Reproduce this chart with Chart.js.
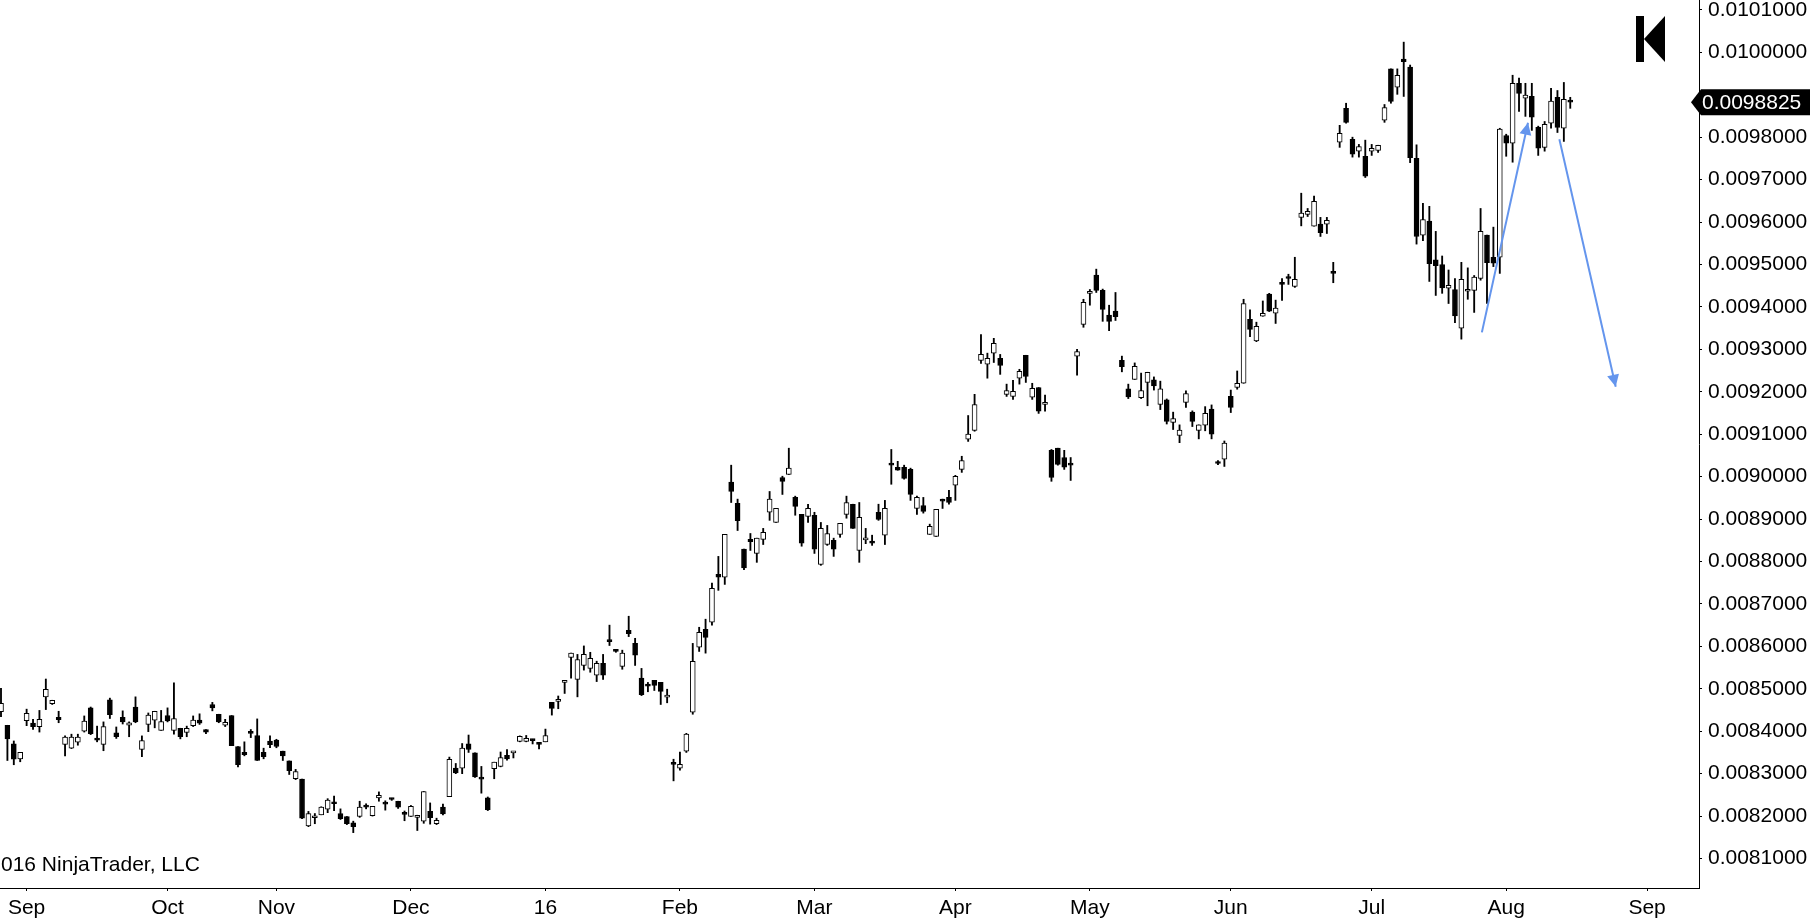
<!DOCTYPE html>
<html><head><meta charset="utf-8">
<script src="https://cdn.jsdelivr.net/npm/chart.js@4/dist/chart.umd.min.js"></script>
<style>html,body{margin:0;padding:0;background:#fff;overflow:hidden}#wrap{width:1810px;height:922px;position:relative}</style>
</head><body><div id="wrap"><canvas id="c" width="1810" height="922"></canvas></div>
<script>
const open=[
0.008446,0.008414,0.008370,0.008335,0.008425,0.008419,0.008411,0.008481,0.008465,0.008433,
0.008369,0.008360,0.008374,0.008400,0.008455,0.008384,0.008369,0.008474,0.008396,0.008433,
0.008414,0.008457,0.008357,0.008416,0.008426,0.008402,0.008437,0.008402,0.008407,0.008397,
0.008413,0.008426,0.008404,0.008463,0.008440,0.008414,0.008437,0.008364,0.008350,0.008399,
0.008390,0.008350,0.008377,0.008379,0.008353,0.008330,0.008288,0.008287,0.008177,0.008196,
0.008203,0.008216,0.008233,0.008206,0.008199,0.008184,0.008199,0.008226,0.008201,0.008243,
0.008231,0.008242,0.008235,0.008207,0.008199,0.008197,0.008188,0.008211,0.008182,0.008221,
0.008246,0.008313,0.008313,0.008370,0.008349,0.008290,0.008243,0.008312,0.008317,0.008343,
0.008349,0.008376,0.008376,0.008381,0.008372,0.008375,0.008468,0.008470,0.008515,0.008574,
0.008522,0.008555,0.008548,0.008532,0.008560,0.008614,0.008593,0.008553,0.008638,0.008607,
0.008525,0.008511,0.008520,0.008515,0.008480,0.008324,0.008313,0.008353,0.008445,0.008598,
0.008640,0.008657,0.008770,0.008763,0.008987,0.008937,0.008829,0.008852,0.008819,0.008852,
0.008916,0.008892,0.008998,0.009005,0.008951,0.008911,0.008906,0.008909,0.008793,0.008840,
0.008850,0.008864,0.008911,0.008935,0.008826,0.008851,0.008848,0.008916,0.008862,0.009029,
0.009022,0.009022,0.009017,0.008925,0.008932,0.008864,0.008859,0.008947,0.008951,0.008980,
0.009017,0.009088,0.009109,0.009274,0.009265,0.009291,0.009279,0.009194,0.009189,0.009232,
0.009286,0.009187,0.009210,0.009170,0.009062,0.009067,0.009045,0.009029,0.009284,0.009359,
0.009432,0.009475,0.009439,0.009381,0.009390,0.009274,0.009207,0.009229,0.009186,0.009222,
0.009228,0.009170,0.009181,0.009128,0.009097,0.009175,0.009152,0.009109,0.009121,0.009159,
0.009034,0.009041,0.009189,0.009210,0.009220,0.009371,0.009320,0.009378,0.009430,0.009385,
0.009458,0.009470,0.009448,0.009611,0.009618,0.009590,0.009595,0.009595,0.009482,0.009788,
0.009868,0.009795,0.009767,0.009755,0.009767,0.009769,0.009840,0.009961,0.009918,0.009984,
0.009965,0.009750,0.009569,0.009602,0.009511,0.009500,0.009444,0.009441,0.009350,0.009437,
0.009439,0.009467,0.009569,0.009517,0.009517,0.009804,0.009786,0.009927,0.009892,0.009896,
0.009823,0.009776,0.009833,0.009894,0.009821,0.009887];
const high=[
0.008501,0.008414,0.008377,0.008350,0.008452,0.008428,0.008449,0.008523,0.008473,0.008447,
0.008389,0.008393,0.008393,0.008436,0.008457,0.008412,0.008422,0.008478,0.008410,0.008448,
0.008422,0.008481,0.008389,0.008443,0.008447,0.008449,0.008455,0.008514,0.008407,0.008412,
0.008436,0.008441,0.008404,0.008468,0.008440,0.008428,0.008437,0.008364,0.008375,0.008404,
0.008429,0.008360,0.008389,0.008381,0.008353,0.008330,0.008310,0.008287,0.008211,0.008206,
0.008222,0.008241,0.008247,0.008217,0.008199,0.008188,0.008235,0.008229,0.008223,0.008257,
0.008236,0.008242,0.008235,0.008212,0.008225,0.008202,0.008258,0.008231,0.008195,0.008228,
0.008339,0.008324,0.008371,0.008391,0.008349,0.008317,0.008245,0.008327,0.008351,0.008357,
0.008352,0.008389,0.008390,0.008381,0.008372,0.008405,0.008468,0.008483,0.008520,0.008584,
0.008581,0.008601,0.008586,0.008565,0.008581,0.008650,0.008593,0.008591,0.008671,0.008619,
0.008548,0.008515,0.008520,0.008515,0.008499,0.008334,0.008351,0.008395,0.008607,0.008645,
0.008664,0.008749,0.008812,0.008864,0.009027,0.008947,0.008829,0.008866,0.008855,0.008878,
0.008965,0.008925,0.009001,0.009067,0.008954,0.008911,0.008935,0.008916,0.008892,0.008885,
0.008855,0.008890,0.008954,0.008935,0.008939,0.008878,0.008862,0.008935,0.008944,0.009064,
0.009036,0.009027,0.009020,0.008954,0.008951,0.008888,0.008923,0.008947,0.008968,0.009003,
0.009048,0.009144,0.009194,0.009335,0.009291,0.009326,0.009288,0.009218,0.009227,0.009253,
0.009286,0.009220,0.009210,0.009192,0.009064,0.009067,0.009062,0.009045,0.009300,0.009418,
0.009441,0.009489,0.009442,0.009404,0.009434,0.009284,0.009218,0.009268,0.009244,0.009246,
0.009235,0.009225,0.009183,0.009152,0.009122,0.009202,0.009155,0.009122,0.009165,0.009169,
0.009038,0.009084,0.009204,0.009249,0.009418,0.009393,0.009364,0.009414,0.009432,0.009416,
0.009467,0.009477,0.009517,0.009668,0.009632,0.009661,0.009611,0.009611,0.009505,0.009828,
0.009880,0.009800,0.009783,0.009793,0.009783,0.009781,0.009877,0.009961,0.009961,0.010024,
0.009970,0.009782,0.009644,0.009637,0.009578,0.009520,0.009487,0.009467,0.009505,0.009492,
0.009474,0.009632,0.009569,0.009588,0.009821,0.009807,0.009946,0.009939,0.009927,0.009927,
0.009826,0.009837,0.009915,0.009910,0.009929,0.009894];
const low=[
0.008434,0.008331,0.008321,0.008328,0.008413,0.008404,0.008398,0.008451,0.008463,0.008420,
0.008342,0.008359,0.008367,0.008398,0.008392,0.008375,0.008354,0.008430,0.008383,0.008417,
0.008387,0.008420,0.008340,0.008399,0.008408,0.008402,0.008422,0.008393,0.008382,0.008387,
0.008411,0.008416,0.008394,0.008448,0.008420,0.008411,0.008366,0.008316,0.008342,0.008385,
0.008331,0.008335,0.008361,0.008361,0.008331,0.008298,0.008286,0.008194,0.008175,0.008182,
0.008203,0.008208,0.008213,0.008192,0.008180,0.008161,0.008197,0.008217,0.008200,0.008235,
0.008214,0.008237,0.008218,0.008189,0.008199,0.008166,0.008183,0.008181,0.008180,0.008203,
0.008246,0.008300,0.008300,0.008350,0.008291,0.008254,0.008213,0.008288,0.008316,0.008332,
0.008337,0.008375,0.008375,0.008370,0.008358,0.008375,0.008438,0.008453,0.008489,0.008525,
0.008481,0.008544,0.008539,0.008517,0.008522,0.008602,0.008586,0.008546,0.008623,0.008555,
0.008484,0.008493,0.008496,0.008463,0.008467,0.008283,0.008308,0.008350,0.008440,0.008588,
0.008584,0.008650,0.008732,0.008746,0.008939,0.008873,0.008781,0.008826,0.008798,0.008840,
0.008897,0.008892,0.008958,0.009005,0.008909,0.008836,0.008892,0.008819,0.008791,0.008838,
0.008812,0.008857,0.008902,0.008878,0.008798,0.008842,0.008838,0.008897,0.008840,0.008982,
0.009015,0.008994,0.008944,0.008911,0.008914,0.008864,0.008859,0.008925,0.008935,0.008944,
0.009010,0.009083,0.009107,0.009267,0.009232,0.009269,0.009241,0.009189,0.009182,0.009218,
0.009222,0.009182,0.009149,0.009154,0.008989,0.009027,0.009017,0.008991,0.009239,0.009352,
0.009404,0.009434,0.009366,0.009344,0.009368,0.009247,0.009184,0.009229,0.009184,0.009167,
0.009204,0.009158,0.009124,0.009111,0.009080,0.009163,0.009118,0.009089,0.009108,0.009089,
0.009028,0.009024,0.009151,0.009206,0.009220,0.009330,0.009318,0.009378,0.009389,0.009361,
0.009415,0.009453,0.009446,0.009591,0.009613,0.009590,0.009566,0.009573,0.009457,0.009776,
0.009833,0.009753,0.009753,0.009705,0.009757,0.009764,0.009835,0.009880,0.009901,0.009896,
0.009740,0.009548,0.009556,0.009460,0.009427,0.009432,0.009408,0.009363,0.009324,0.009418,
0.009387,0.009463,0.009408,0.009495,0.009479,0.009755,0.009741,0.009861,0.009849,0.009816,
0.009757,0.009767,0.009821,0.009811,0.009790,0.009868];
const close=[
0.008466,0.008382,0.008334,0.008350,0.008442,0.008411,0.008428,0.008499,0.008473,0.008427,
0.008386,0.008386,0.008386,0.008424,0.008394,0.008379,0.008411,0.008439,0.008387,0.008422,
0.008420,0.008422,0.008378,0.008438,0.008447,0.008423,0.008424,0.008430,0.008387,0.008407,
0.008426,0.008419,0.008398,0.008455,0.008422,0.008421,0.008366,0.008321,0.008345,0.008395,
0.008331,0.008340,0.008368,0.008364,0.008342,0.008307,0.008305,0.008195,0.008206,0.008199,
0.008221,0.008238,0.008229,0.008194,0.008182,0.008175,0.008221,0.008221,0.008223,0.008249,
0.008228,0.008239,0.008221,0.008204,0.008223,0.008202,0.008258,0.008196,0.008190,0.008205,
0.008334,0.008302,0.008360,0.008357,0.008292,0.008287,0.008215,0.008327,0.008338,0.008335,
0.008350,0.008388,0.008383,0.008378,0.008369,0.008390,0.008454,0.008475,0.008520,0.008584,
0.008569,0.008581,0.008572,0.008560,0.008532,0.008611,0.008588,0.008584,0.008630,0.008579,
0.008486,0.008506,0.008508,0.008494,0.008485,0.008322,0.008322,0.008393,0.008565,0.008633,
0.008621,0.008737,0.008763,0.008864,0.008965,0.008896,0.008785,0.008847,0.008855,0.008869,
0.008947,0.008925,0.008989,0.009020,0.008930,0.008843,0.008925,0.008829,0.008878,0.008866,
0.008829,0.008890,0.008939,0.008878,0.008904,0.008852,0.008843,0.008899,0.008925,0.009027,
0.009015,0.008996,0.008958,0.008951,0.008918,0.008883,0.008923,0.008942,0.008939,0.009001,
0.009038,0.009100,0.009170,0.009288,0.009279,0.009314,0.009262,0.009203,0.009201,0.009248,
0.009236,0.009208,0.009154,0.009175,0.008998,0.009029,0.009022,0.009027,0.009295,0.009411,
0.009437,0.009439,0.009394,0.009366,0.009377,0.009259,0.009188,0.009260,0.009203,0.009246,
0.009214,0.009207,0.009130,0.009137,0.009110,0.009196,0.009130,0.009122,0.009149,0.009100,
0.009031,0.009079,0.009163,0.009220,0.009408,0.009347,0.009354,0.009385,0.009390,0.009397,
0.009453,0.009467,0.009465,0.009621,0.009625,0.009649,0.009575,0.009604,0.009479,0.009809,
0.009835,0.009760,0.009778,0.009708,0.009774,0.009781,0.009870,0.009884,0.009946,0.009978,
0.009752,0.009566,0.009606,0.009502,0.009497,0.009445,0.009451,0.009379,0.009465,0.009441,
0.009470,0.009578,0.009504,0.009503,0.009819,0.009786,0.009927,0.009903,0.009899,0.009847,
0.009774,0.009830,0.009885,0.009823,0.009889,0.0098825];

const monthLabels=['Sep','Oct','Nov','Dec','16','Feb','Mar','Apr','May','Jun','Jul','Aug','Sep'];
const monthBars=[4,26,43,64,85,106,127,149,170,192,214,235,257];

const arrowUpX=[231.2,238.4];
const arrowUpY=[0.009340,0.009834];
const arrowDownX=[243.3,252.1];
const arrowDownY=[0.009795,0.009212];

const copyrightText='016 NinjaTrader, LLC';

const FONT="'Liberation Sans', Arial, sans-serif";
const FS=21;
const idx=open.map((_,i)=>i);
const lastPrice=close[close.length-1];

const decor={
  id:'decor',
  afterDatasetsDraw(chart){
    const ctx=chart.ctx;
    chart.data.datasets.forEach((ds,i)=>{
      if(!ds.arrow) return;
      const pts=chart.getDatasetMeta(i).data;
      const a=pts[pts.length-2], b=pts[pts.length-1];
      const ang=Math.atan2(b.y-a.y,b.x-a.x);
      const L=12, W=6;
      const c=Math.cos(ang), s=Math.sin(ang);
      ctx.save();
      ctx.fillStyle=ds.borderColor;
      ctx.beginPath();
      ctx.moveTo(b.x,b.y);
      ctx.lineTo(b.x-L*c+W*s, b.y-L*s-W*c);
      ctx.lineTo(b.x-L*c-W*s, b.y-L*s+W*c);
      ctx.closePath();
      ctx.fill();
      ctx.restore();
    });
  },
  afterDraw(chart){
    const ctx=chart.ctx, ya=chart.scales.y, area=chart.chartArea;
    ctx.save();
    ctx.fillStyle='#000';
    ctx.font=FS+'px '+FONT;
    ctx.textBaseline='middle';
    ctx.textAlign='left';
    ctx.fillText(copyrightText,1,area.bottom-23);
    const lx=area.right-63, ly=16;
    ctx.fillRect(lx,ly,8,46);
    ctx.beginPath();
    ctx.moveTo(lx+8,ly+23);
    ctx.lineTo(lx+29,ly);
    ctx.lineTo(lx+29,ly+46);
    ctx.closePath();
    ctx.fill();
    const py=ya.getPixelForValue(lastPrice);
    const x0=area.right-8;
    ctx.beginPath();
    ctx.moveTo(x0,py);
    ctx.lineTo(x0+10,py-13);
    ctx.lineTo(chart.width,py-13);
    ctx.lineTo(chart.width,py+13);
    ctx.lineTo(x0+10,py+13);
    ctx.closePath();
    ctx.fill();
    ctx.fillStyle='#fff';
    ctx.fillText(lastPrice.toFixed(7),x0+11,py+1);
    ctx.restore();
  }
};

new Chart(document.getElementById('c'),{
  data:{
    datasets:[
      {type:'bar',label:'body',data:idx.map(i=>({x:i,y:[open[i],close[i]]})),
       backgroundColor:idx.map(i=>close[i]>=open[i]?'#ffffff':'#000000'),
       borderColor:'#000000',borderWidth:1,borderSkipped:false,barThickness:5,minBarLength:2,grouped:false,order:0},
      {type:'bar',label:'wick',data:idx.map(i=>({x:i,y:[low[i],high[i]]})),
       backgroundColor:'#000000',borderWidth:0,barThickness:1.2,grouped:false,order:1},
      {type:'line',label:'up',data:arrowUpX.map((x,i)=>({x:x,y:arrowUpY[i]})),
       borderColor:'#6495ED',borderWidth:2,pointRadius:0,order:-1,arrow:true},
      {type:'line',label:'down',data:arrowDownX.map((x,i)=>({x:x,y:arrowDownY[i]})),
       borderColor:'#6495ED',borderWidth:2,pointRadius:0,order:-1,arrow:true}
    ]
  },
  options:{
    responsive:false,animation:false,
    layout:{padding:0},
    plugins:{legend:{display:false},tooltip:{enabled:false}},
    scales:{
      x:{type:'linear',position:'bottom',min:-0.156,max:265.1,offset:false,
        grid:{display:true,offset:false,drawOnChartArea:false,drawTicks:true,tickLength:3,color:'#000'},
        border:{display:true,color:'#000',width:1},
        ticks:{autoSkip:false,maxRotation:0,minRotation:0,padding:5,color:'#000',font:{size:FS,family:FONT},
          callback:(v)=>{const k=monthBars.indexOf(v);return k>=0?monthLabels[k]:'';}},
        afterBuildTicks:(s)=>{s.ticks=monthBars.map(v=>({value:v}));},
        afterFit:(s)=>{s.height=34;s.paddingLeft=0;s.paddingRight=0;}
      },
      y:{type:'linear',position:'right',min:0.0080305,max:0.0101233,
        grid:{display:true,drawOnChartArea:false,drawTicks:true,tickLength:3,color:'#000'},
        border:{display:true,color:'#000',width:1},
        ticks:{stepSize:0.0001,includeBounds:false,autoSkip:false,padding:6,color:'#000',font:{size:FS,family:FONT},
          callback:(v)=>Math.abs(v-lastPrice)<0.00003?'':Number(v).toFixed(7)},
        afterFit:(s)=>{s.width=111;s.paddingTop=0;s.paddingBottom=0;}
      }
    }
  },
  plugins:[decor]
});
</script>
</body></html>
